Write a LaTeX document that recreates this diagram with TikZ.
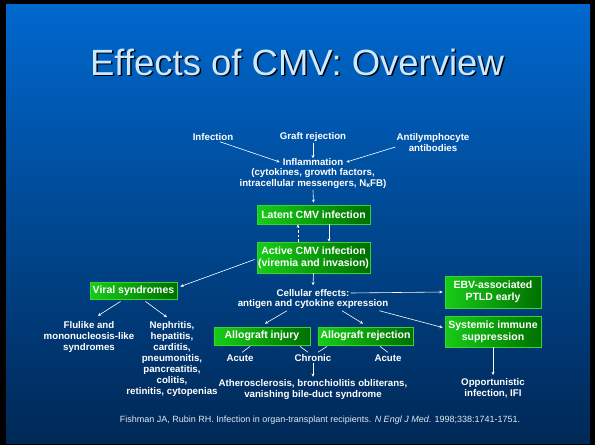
\documentclass[tikz,border=0pt]{standalone}
\usepackage{fontspec}
\setmainfont{Liberation Sans}
\usetikzlibrary{arrows.meta,shadows}
\definecolor{bgtop}{RGB}{0,104,206}
\definecolor{bgmid}{RGB}{0,76,156}
\definecolor{bgbot}{RGB}{0,40,86}
\definecolor{gbright}{RGB}{24,204,24}
\definecolor{gdark}{RGB}{0,112,0}
\definecolor{gborder}{RGB}{50,215,50}
\definecolor{titlecol}{RGB}{204,232,255}
\definecolor{refcol}{RGB}{225,232,242}
\begin{document}
\begin{tikzpicture}[x=1pt,y=-1pt,
 txt/.style={text=white, font=\bfseries\fontsize{9.7}{11}\selectfont, align=center, inner sep=1pt},
 gbox/.style={draw=gborder, line width=0.8pt, left color=gbright, right color=gdark, text=white,
   font=\bfseries\fontsize{10.5}{12}\selectfont, align=center, inner sep=0pt,
   drop shadow={shadow xshift=1.2pt,shadow yshift=-1.2pt,opacity=0.6}},
 arr/.style={white, line width=0.6pt, -{Stealth[length=3.2pt,width=3pt]}},
 darr/.style={arr, dash pattern=on 2.5pt off 2pt},
 ln/.style={white, line width=0.6pt},
 ttl/.style={font=\fontsize{36.5}{40}\selectfont},
]
\useasboundingbox (0,0) rectangle (595,445);
\fill[black] (0,0) rectangle (595,445);
\shade[top color=bgtop, middle color=bgmid, bottom color=bgbot] (6,4) rectangle (590,443);

% title
\node[ttl, text=black] (titleshadow) at (298.5,63.5) {Effects of CMV: Overview};
\node[ttl, text=titlecol] (title) at (297,62) {Effects of CMV: Overview};

% text nodes
\node[txt] (inf) at (213,137) {Infection};
\node[txt] (graft) at (313,137) {Graft rejection};
\node[txt] (anti) at (433,143) {Antilymphocyte\\antibodies};
\node[txt] (infl) at (313,162) {Inflammation};
\node[txt] (inflsub) at (313,179) {(cytokines, growth factors,\\intracellular messengers, N\raisebox{-1pt}{\fontsize{7}{7}\selectfont κ}FB)};

% boxes
\node[gbox, minimum width=113pt, minimum height=19pt] (latent) at (313.5,214.5) {Latent CMV infection};
\node[gbox, minimum width=113pt, minimum height=31pt] (active) at (313.5,257.5) {Active CMV infection\\(viremia and invasion)};
\node[gbox, minimum width=87pt, minimum height=17pt] (viral) at (133.5,290.5) {Viral syndromes};

\node[txt] (cell) at (313,293) {Cellular effects:};
\node[txt] (cell2) at (313,304) {antigen and cytokine expression};

\node[gbox, minimum width=96pt, minimum height=32pt] (ebv) at (493,292) {EBV-associated\\PTLD early};
\node[gbox, minimum width=96pt, minimum height=31pt] (sys) at (493,331.5) {Systemic immune\\suppression};
\node[txt] (opp) at (493,388) {Opportunistic\\infection, IFI};

\node[gbox, minimum width=96pt, minimum height=18pt] (inj) at (262,336) {Allograft injury};
\node[gbox, minimum width=95pt, minimum height=18pt] (rej) at (365.5,336) {Allograft rejection};

\node[txt] (acute1) at (240,358) {Acute};
\node[txt] (chronic) at (313,358) {Chronic};
\node[txt] (acute2) at (388,358) {Acute};
\node[txt] (ath) at (313,390) {Atherosclerosis, bronchiolitis obliterans,\\vanishing bile-duct syndrome};

\node[txt] (flu) at (89,336.5) {Flulike and\\mononucleosis-like\\syndromes};
\node[txt] (neph) at (172,359) {Nephritis,\\hepatitis,\\carditis,\\pneumonitis,\\pancreatitis,\\colitis,\\retinitis, cytopenias};

\node[text=refcol, font=\fontsize{9}{11}\selectfont] (ref) at (320,420) {Fishman JA, Rubin RH. Infection in organ-transplant recipients. \textit{N Engl J Med}. 1998;338:1741-1751.};

% connectors
\draw[arr] ([xshift=7pt]inf.south) -- ([xshift=-2pt]infl.west);
\draw[arr] (graft.south) -- ([yshift=-1pt]infl.north);
\draw[arr] ([yshift=-4pt]anti.west) -- ([xshift=2pt]infl.east);
\draw[arr] (inflsub.south) -- ([yshift=2pt]latent.north);
\draw[darr] ([xshift=-15.5pt]active.north) -- ([xshift=-15.5pt]latent.south);
\draw[arr] ([xshift=15.5pt]latent.south) -- ([xshift=15.5pt]active.north);
\draw[arr] ([xshift=-2pt,yshift=-2pt]active.west) -- ([xshift=3pt,yshift=4pt]viral.east);
\draw[arr] ([xshift=-13pt,yshift=-2pt]viral.south) -- ([xshift=9pt,yshift=4pt]flu.north);
\draw[arr] ([xshift=12pt,yshift=-2pt]viral.south) -- ([xshift=-5pt,yshift=3pt]neph.north);
\draw[arr] (active.south) -- ([yshift=3pt]cell.north);
\draw[arr] (cell.east) -- ([xshift=-2pt]ebv.west);
\draw[arr] ([xshift=-10pt,yshift=-1pt]cell2.south east) -- ([xshift=-2pt,yshift=4pt]sys.west);
\draw[arr] (sys.south) -- ([yshift=2pt]opp.north);
\draw[arr] ([xshift=-26pt,yshift=-1pt]cell2.south) -- ([xshift=3pt,yshift=3pt]inj.north);
\draw[arr] ([xshift=29pt,yshift=-1pt]cell2.south) -- ([xshift=-2.5pt,yshift=3pt]rej.north);
\draw[ln] ([xshift=-12pt,yshift=-1pt]inj.south) -- ([xshift=2pt,yshift=1pt]acute1.north);
\draw[ln] ([xshift=38pt,yshift=-1pt]inj.south) -- ([xshift=-5pt,yshift=1pt]chronic.north);
\draw[ln] ([xshift=-38.5pt,yshift=-1pt]rej.south) -- ([xshift=5pt,yshift=1pt]chronic.north);
\draw[ln] ([xshift=14.5pt,yshift=-1pt]rej.south) -- ([xshift=0pt,yshift=1pt]acute2.north);
\draw[arr] (chronic.south) -- ([yshift=2pt]ath.north);
\end{tikzpicture}
\end{document}
